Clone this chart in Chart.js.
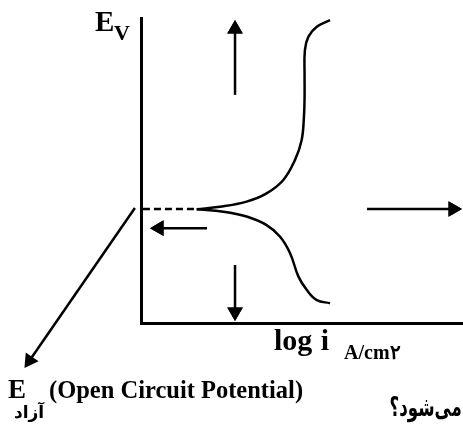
<!DOCTYPE html>
<html>
<head>
<meta charset="utf-8">
<script src="https://cdn.jsdelivr.net/npm/chart.js@4.4.1/dist/chart.umd.min.js"></script>
<style>
    html, body { margin: 0; padding: 0; background: #fff; }
    #wrap { position: relative; width: 463px; height: 429px; overflow: hidden; }
    #wrap canvas { position: absolute; left: 0; top: 0; }
    .lbl { position: absolute; line-height: 1; white-space: nowrap; color: #000;
           font-family: "Liberation Serif", serif; font-weight: bold; }
    .fa { font-family: "DejaVu Sans", sans-serif; direction: rtl; }
</style>
</head>
<body>
<div id="wrap">
    <canvas id="polChart" width="463" height="429"></canvas>
    <span class="lbl" style="left:95px; top:7px; font-size:29px;">E</span>
    <span class="lbl" style="left:114px; top:22px; font-size:22px;">V</span>
    <span class="lbl" style="left:274px; top:325px; font-size:30px; word-spacing:1px;">log i</span>
    <span class="lbl" style="left:344px; top:342px; font-size:20px;">A/cm۲</span>
    <span class="lbl" style="left:8px; top:376px; font-size:27px;">E</span>
    <span class="lbl" style="left:49px; top:378px; font-size:24.5px;">(Open Circuit Potential)</span>
    <span class="lbl fa" style="left:14px; top:404px; font-size:17px;">آزاد</span>
    <span class="lbl fa" style="right:1px; top:394px; font-size:26px; transform:scaleX(0.64); transform-origin:right center;">می‌شود؟</span>
</div>
<script>
// Polarization sketch: E (0-100) vs log i (0-100), arbitrary units

// Anodic branch (upper curve), from Ecorr up
const anodicX = [17.3, 24.5, 32.8, 39.0, 44.2, 47.8, 49.9, 50.6, 50.8, 50.8, 50.9, 52.0, 54.6, 58.7];
const anodicY = [37.3, 38.1, 39.8, 42.5, 46.9, 53.4, 60.0, 67.6, 74.2, 80.8, 89.5, 93.9, 97.1, 99.3];

// Cathodic branch (lower curve), from Ecorr down
const cathodicX = [17.3, 25.6, 32.8, 39.0, 43.2, 46.3, 48.9, 51.5, 54.6, 58.7];
const cathodicY = [37.3, 36.5, 34.9, 32.1, 28.3, 22.9, 15.2, 10.8, 7.5, 6.5];

// Dashed extension to the E axis
const dashX = [0.6, 16.8];
const dashY = [37.4, 37.4];

// Arrows: [tailX, tailY, headX, headY, rotation]
const arrowUp = [29.2, 74.8, 29.2, 96.4, 0];
const arrowDown = [29.2, 19.0, 29.2, 3.6, 180];
const arrowRight = [70.2, 37.4, 96.9, 37.4, 90];
const arrowLeft = [20.5, 31.1, 5.6, 31.1, 270];
const arrowOcp = [-1.9, 37.7, -34.6, -12.3, 214.7];

function toPoints(xs, ys) {
    return xs.map((x, i) => ({ x: x, y: ys[i] }));
}

function curveSet(xs, ys, extra) {
    return Object.assign({
        data: toPoints(xs, ys),
        borderColor: '#000',
        borderWidth: 2.5,
        pointRadius: 0,
        tension: 0.4,
        fill: false,
        clip: false
    }, extra || {});
}

function arrowSet(a) {
    return {
        isArrow: true,
        data: [{ x: a[0], y: a[1] }, { x: a[2], y: a[3] }],
        borderColor: '#000',
        backgroundColor: '#000',
        borderWidth: 2.5,
        pointStyle: 'triangle',
        pointRadius: [0, 9],
        pointBorderWidth: 0,
        pointRotation: a[4],
        tension: 0,
        fill: false,
        clip: false
    };
}

// heads that sit outside the chart area are skipped by Chart.js, so draw them again
const arrowHeads = {
    id: 'arrowHeads',
    afterDatasetsDraw(chart) {
        const ctx = chart.ctx;
        chart.data.datasets.forEach((ds, i) => {
            if (!ds.isArrow) return;
            const head = chart.getDatasetMeta(i).data[1];
            if (head) head.draw(ctx);
        });
    }
};

const ctx = document.getElementById('polChart');
new Chart(ctx, {
    type: 'line',
    data: {
        datasets: [
            curveSet(anodicX, anodicY),
            curveSet(cathodicX, cathodicY),
            curveSet(dashX, dashY, { borderDash: [7, 4], tension: 0 }),
            arrowSet(arrowUp),
            arrowSet(arrowDown),
            arrowSet(arrowRight),
            arrowSet(arrowLeft),
            arrowSet(arrowOcp)
        ]
    },
    options: {
        responsive: false,
        animation: false,
        events: [],
        layout: {
            autoPadding: false,
            padding: { left: 141, top: 18, right: 0, bottom: 106 }
        },
        scales: {
            x: {
                type: 'linear',
                min: 0,
                max: 100,
                grid: { display: false, drawTicks: false },
                ticks: { display: false },
                border: { color: '#000', width: 3 }
            },
            y: {
                type: 'linear',
                min: 0,
                max: 100,
                grid: { display: false, drawTicks: false },
                ticks: { display: false },
                border: { color: '#000', width: 3 }
            }
        },
        plugins: {
            legend: { display: false },
            tooltip: { enabled: false }
        }
    },
    plugins: [arrowHeads]
});
</script>
</body>
</html>
